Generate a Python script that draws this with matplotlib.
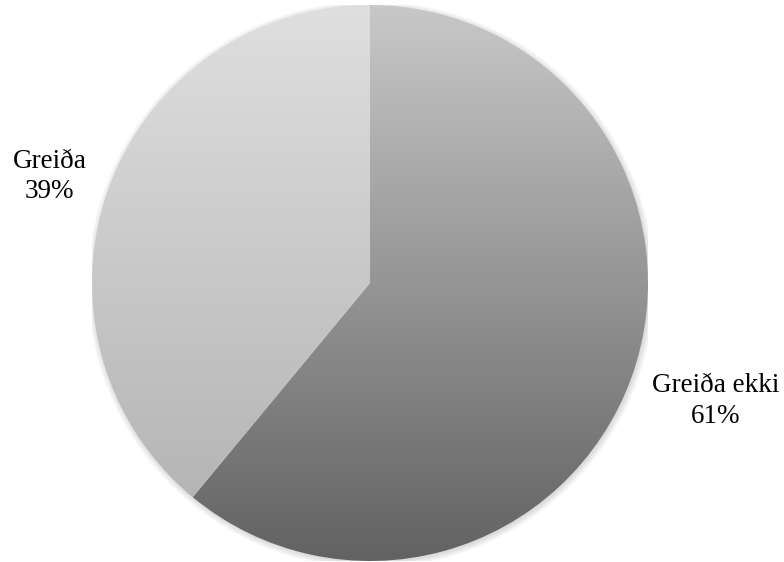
import numpy as np
import matplotlib
matplotlib.use("Agg")
import matplotlib.pyplot as plt
from matplotlib.colors import LinearSegmentedColormap
from matplotlib.patches import Circle

labels = ["Greiða ekki", "Greiða"]
values = [61, 39]
grad_top = ["#c8c8c8", "#dfdfdf"]
grad_bottom = ["#626262", "#b0b0b0"]
label_dist = [1.32, 1.225]
label_shift = [0.023, -0.032]

fig = plt.figure(figsize=(7.84, 5.62), dpi=100)
cx, cy, r = 370, 283, 278
W, H = 784, 562
ax = fig.add_axes([(cx - r) / W, (H - cy - r) / H, 2 * r / W, 2 * r / H])

# soft shadow
for k in range(6):
    ax.add_patch(Circle((0.004, -0.006), 1.0 + 0.004 * k, color="black",
                        alpha=0.025, lw=0, zorder=0))

wedges, texts = ax.pie(values, labels=[f"{l}\n{v}%" for l, v in zip(labels, values)],
                       startangle=90, counterclock=False, radius=1,
                       labeldistance=1.0,
                       textprops=dict(family="Liberation Serif", fontsize=19.5, color="black"))

grad = np.linspace(1, 0, 256).reshape(-1, 1)
for w, top, bot in zip(wedges, grad_top, grad_bottom):
    w.set_facecolor("none")
    w.set_edgecolor("none")
    cmap = LinearSegmentedColormap.from_list("g", [bot, top])
    im = ax.imshow(grad, cmap=cmap, extent=[-1, 1, -1, 1], origin="upper",
                   aspect="auto", zorder=1, vmin=0, vmax=1)
    im.set_clip_path(w)

for t, d, s in zip(texts, label_dist, label_shift):
    x, y = t.get_position()
    t.set_position((x * d, y * d + s))
    t.set_horizontalalignment("center")
    t.set_verticalalignment("center")
    t.set_linespacing(1.28)

ax.set_xlim(-1, 1)
ax.set_ylim(-1, 1)
ax.set_aspect("equal")
ax.axis("off")
fig.savefig("out.png", dpi=100, facecolor="white")
